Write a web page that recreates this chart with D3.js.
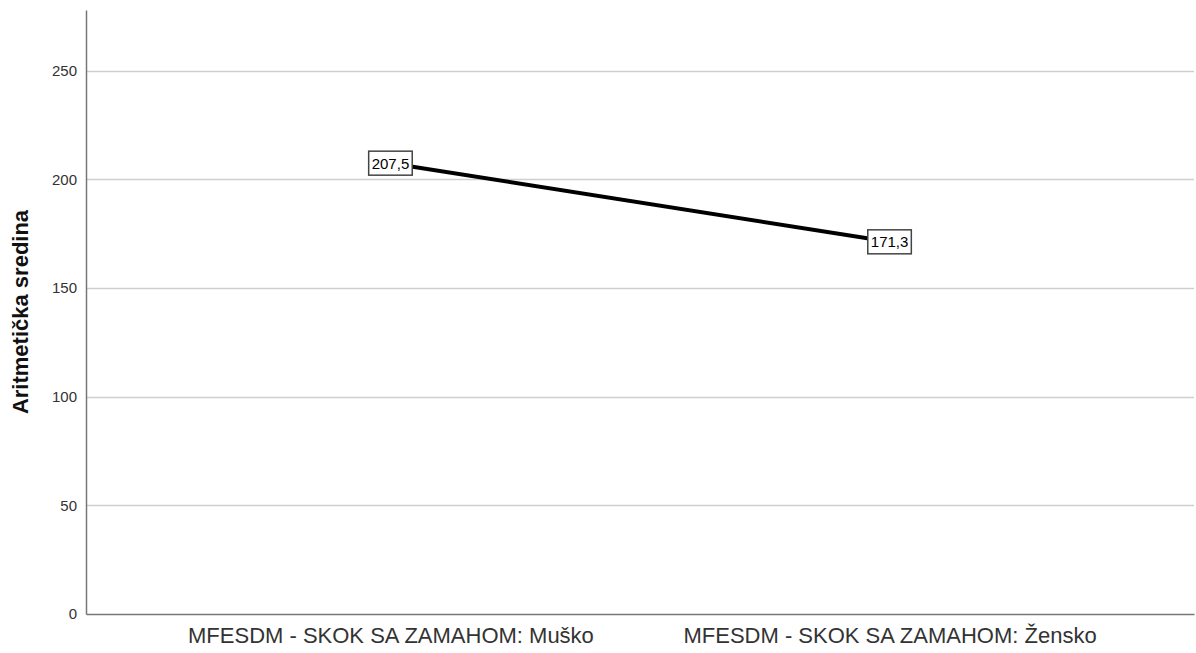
<!DOCTYPE html>
<html>
<head>
<meta charset="utf-8">
<script src="https://cdn.jsdelivr.net/npm/d3@7"></script>
<style>
  body { margin: 0; background: #fff; }
  svg { display: block; font-family: "Liberation Sans", Arial, sans-serif; }
</style>
</head>
<body>
<svg id="chart" width="1196" height="653"></svg>
<script>
// data
const categories = ["MFESDM - SKOK SA ZAMAHOM: Muško", "MFESDM - SKOK SA ZAMAHOM: Žensko"];
const means = [207.5, 171.3];
const yTicks = [0, 50, 100, 150, 200, 250];

const svg = d3.select("#chart");
const plotLeft = 86, plotRight = 1194, plotTop = 10, plotBottom = 614;
const font = "Liberation Sans, Arial, sans-serif";

const x = d3.scalePoint().domain(categories).range([plotLeft, plotRight]).padding(0.61);
const y = d3.scaleLinear().domain([0, 278]).range([plotBottom, plotTop]);

// grid lines
svg.append("g")
  .selectAll("line")
  .data(yTicks.filter(d => d > 0))
  .enter().append("line")
  .attr("x1", plotLeft).attr("x2", plotRight)
  .attr("y1", d => Math.round(y(d)) + 0.5).attr("y2", d => Math.round(y(d)) + 0.5)
  .attr("stroke", "#cfcfcf")
  .attr("stroke-width", 1.5);

// y axis
const yAxis = svg.append("g")
  .attr("transform", `translate(${plotLeft},0)`)
  .call(d3.axisLeft(y).tickValues(yTicks).tickSize(0).tickPadding(9));
yAxis.select(".domain").attr("stroke", "#777").attr("stroke-width", 1.5);
yAxis.selectAll("text").attr("font-size", 15).attr("fill", "#333").attr("font-family", font);

// x axis
const xAxis = svg.append("g")
  .attr("transform", `translate(0,${plotBottom})`)
  .call(d3.axisBottom(x).tickSize(0).tickPadding(13));
xAxis.select(".domain").attr("stroke", "#777").attr("stroke-width", 1.5);
xAxis.selectAll("text").attr("font-size", 22).attr("fill", "#333").attr("font-family", font);

// y label
svg.append("text")
  .attr("transform", `translate(28,${(plotTop + plotBottom) / 2}) rotate(-90)`)
  .attr("text-anchor", "middle")
  .attr("font-size", 22)
  .attr("font-weight", "bold")
  .attr("font-family", font)
  .attr("fill", "#111")
  .text("Aritmetička sredina");

// mean line
const line = d3.line()
  .x((d, i) => x(categories[i]))
  .y(d => y(d));
svg.append("path")
  .datum(means)
  .attr("d", line)
  .attr("fill", "none")
  .attr("stroke", "#000")
  .attr("stroke-width", 4);

// value boxes
const fmt = v => d3.format(".1f")(v).replace(".", ",");
const lab = svg.append("g").selectAll("g")
  .data(means)
  .enter().append("g")
  .attr("transform", (d, i) => `translate(${x(categories[i])},${y(d)})`);
lab.append("rect");
lab.append("text")
  .attr("text-anchor", "middle")
  .attr("dy", "0.36em")
  .attr("font-size", 15)
  .attr("font-family", font)
  .attr("fill", "#000")
  .text(fmt);
lab.each(function() {
  const g = d3.select(this);
  const b = g.select("text").node().getBBox();
  g.select("rect")
    .attr("x", b.x - 3).attr("y", -12)
    .attr("width", b.width + 6).attr("height", 24)
    .attr("fill", "#fff")
    .attr("stroke", "#444")
    .attr("stroke-width", 1.5);
});
</script>
</body>
</html>
